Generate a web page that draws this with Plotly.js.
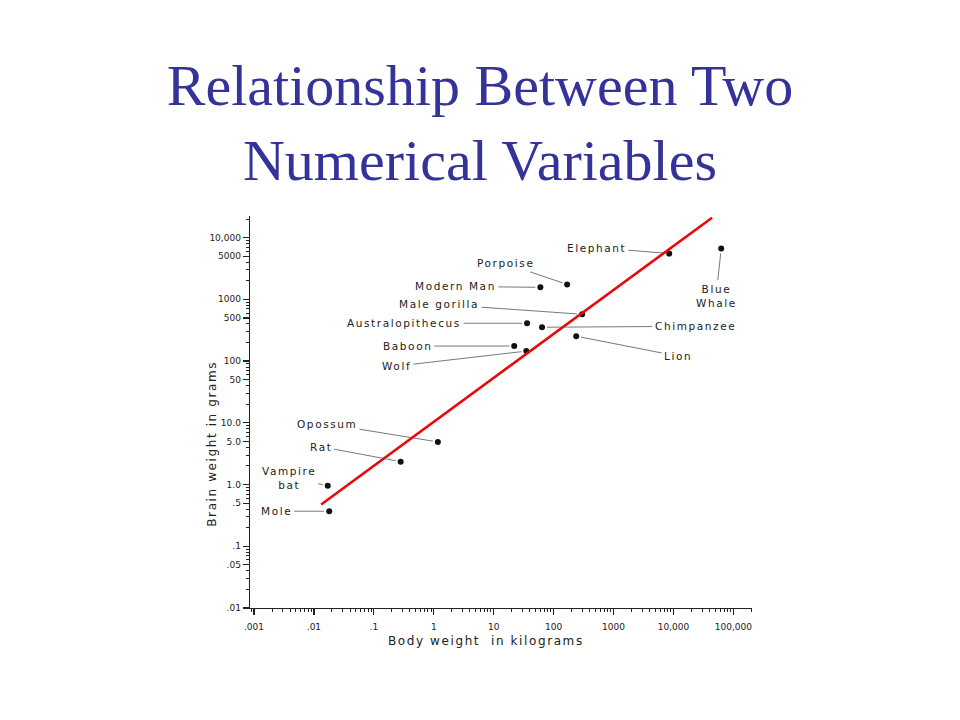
<!DOCTYPE html>
<html>
<head>
<meta charset="utf-8">
<script src="https://cdn.plot.ly/plotly-3.0.1.min.js"></script>
<style>
  html, body { margin: 0; padding: 0; background: #fff; }
  #chart { width: 960px; height: 720px; }
  .annotation-text { letter-spacing: 1.6px; }
</style>
</head>
<body>
<div id="chart"></div>
<script>
// ---- data ----
const animals = ["Mole", "Vampire bat", "Rat", "Opossum", "Wolf", "Baboon", "Australopithecus",
                 "Chimpanzee", "Male gorilla", "Lion", "Modern Man", "Porpoise", "Elephant", "Blue Whale"];
const bodyKg  = [0.018, 0.017, 0.28, 1.17, 35, 22, 36, 64, 299, 238, 60, 168, 8470, 62500];
const brainG  = [0.37, 0.96, 2.35, 4.9, 145, 175, 410, 353, 573, 253, 1563, 1745, 5520, 6650];
const labelText = ["Mole", "Vampire<br>bat", "Rat", "Opossum", "Wolf", "Baboon", "Australopithecus",
                   "Chimpanzee", "Male gorilla", "Lion", "Modern Man", "Porpoise", "Elephant", "Blue<br>Whale"];

const fitX = [0.0132, 44000];
const fitY = [0.475, 21000];

const xTickVals = [0.001, 0.01, 0.1, 1, 10, 100, 1000, 10000, 100000];
const xTickText = [".001", ".01", ".1", "1", "10", "100", "1000", "10,000", "100,000"];
const yTickVals = [10000, 5000, 1000, 500, 100, 50, 10, 5, 1, 0.5, 0.1, 0.05, 0.01];
const yTickText = ["10,000", "5000", "1000", "500", "100", "50", "10.0", "5.0", "1.0", ".5", ".1", ".05", ".01"];

// label offsets (pixels from point to label centre) – layout only
const labelOffsets = {
  "Mole": [-53, 0], "Vampire bat": [-39, -8], "Rat": [-80, -15], "Opossum": [-111, -18],
  "Wolf": [-130, 15], "Baboon": [-107, 0], "Australopithecus": [-123, 0],
  "Chimpanzee": [153, -1], "Male gorilla": [-143, -10], "Lion": [102, 20],
  "Modern Man": [-85, -1], "Porpoise": [-62, -21], "Elephant": [-73, -6], "Blue Whale": [-5, 47]
};

const ink = "#222";
const labelFont = { family: "DejaVu Sans", size: 10.5, color: ink };

const annotations = animals.map((a, i) => ({
  x: Math.log10(bodyKg[i]), y: Math.log10(brainG[i]), xref: "x", yref: "y",
  text: labelText[i], showarrow: true, arrowhead: 0, arrowwidth: 0.8, arrowcolor: "#555",
  ax: labelOffsets[a][0], ay: labelOffsets[a][1], standoff: 5, font: labelFont,
  align: "center", borderpad: 2
}));

annotations.push({
  xref: "paper", yref: "paper", x: 0.47, y: -0.085, yanchor: "middle", xanchor: "center",
  text: "Body weight  in kilograms", showarrow: false,
  font: { family: "DejaVu Sans", size: 12, color: ink }
});
annotations.push({
  xref: "paper", yref: "paper", x: -0.075, y: 0.42, xanchor: "center", yanchor: "middle",
  text: "Brain weight in grams", showarrow: false, textangle: -90,
  font: { family: "DejaVu Sans", size: 12, color: ink }
});

const traces = [
  {
    x: bodyKg, y: brainG, type: "scatter", mode: "markers",
    marker: { color: "#111", size: 6 }, hoverinfo: "text", text: animals, cliponaxis: false
  },
  {
    x: fitX, y: fitY, type: "scatter", mode: "lines",
    line: { color: "#e8090b", width: 2.6 }, hoverinfo: "skip"
  }
];

const axisCommon = {
  type: "log", showgrid: false, zeroline: false, showline: true, linecolor: ink, linewidth: 1.3,
  ticks: "outside", ticklen: 6, tickwidth: 1.2, tickcolor: ink, tickmode: "array",
  tickfont: { family: "DejaVu Sans", size: 9, color: ink },
  minor: { ticks: "outside", ticklen: 3, tickcolor: ink, tickwidth: 1, dtick: "D1", showgrid: false }
};

const layout = {
  width: 960, height: 720,
  paper_bgcolor: "#fff", plot_bgcolor: "#fff",
  margin: { l: 250, r: 208, t: 216, b: 112 },
  showlegend: false,
  title: {
    text: "Relationship Between Two<br>Numerical Variables",
    font: { family: "Liberation Serif", size: 58, color: "#333399" },
    x: 0.5, xref: "container", xanchor: "center",
    y: 1 - 105 / 720, yref: "container", yanchor: "top"
  },
  xaxis: Object.assign({}, axisCommon, {
    range: [-3.067, 5.31], tickvals: xTickVals, ticktext: xTickText, ticklabelstandoff: 4
  }),
  yaxis: Object.assign({}, axisCommon, {
    range: [-2, 4.35], tickvals: yTickVals, ticktext: yTickText
  }),
  annotations: annotations
};

Plotly.newPlot("chart", traces, layout, { displayModeBar: false, staticPlot: true });
</script>
</body>
</html>
